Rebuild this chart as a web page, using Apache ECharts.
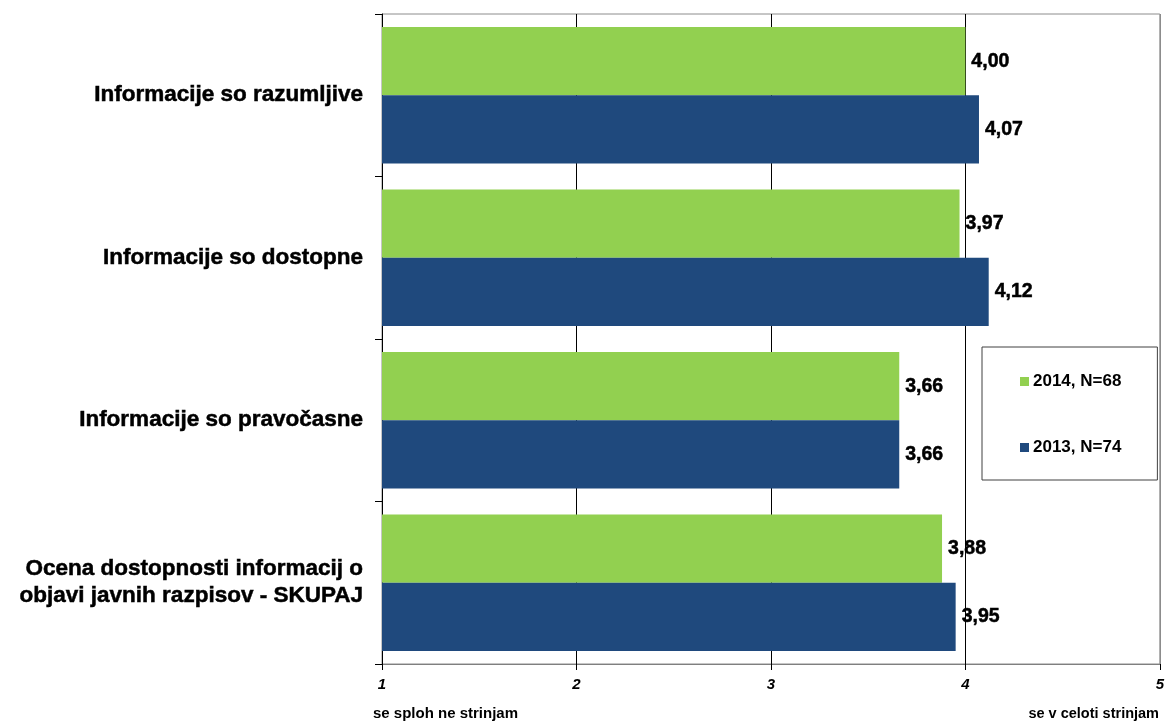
<!DOCTYPE html>
<html>
<head>
<meta charset="utf-8">
<script src="https://cdn.jsdelivr.net/npm/echarts@6/dist/echarts.min.js"></script>
<style>
html,body{margin:0;padding:0;background:#fff;}
#c{width:1167px;height:722px;}
</style>
</head>
<body>
<div id="c"></div>
<script>
const categories = [
  'Informacije so razumljive',
  'Informacije so dostopne',
  'Informacije so pravočasne',
  'Ocena dostopnosti informacij o\nobjavi javnih razpisov - SKUPAJ'
];
const series2014 = [4.00, 3.97, 3.66, 3.88];
const series2013 = [4.07, 4.12, 3.66, 3.95];
const seriesNames = ['2014, N=68', '2013, N=74'];
const scaleLeft = 'se sploh ne strinjam';
const scaleRight = 'se v celoti strinjam';

const FONT = '"Liberation Sans", Arial, sans-serif';
const fmt = p => p.value.toFixed(2).replace('.', ',');
const labelStyle = {
  show: true, position: 'right', distance: 6,
  formatter: fmt, color: '#000', fontFamily: FONT, fontWeight: 'bold', fontSize: 19.5,
  textBorderColor: '#000', textBorderWidth: 0.5
};

const chart = echarts.init(document.getElementById('c'), null, {renderer: 'canvas'});
chart.setOption({
  animation: false,
  backgroundColor: '#fff',
  grid: {
    left: 382, right: 4, top: 14, bottom: 58,
    show: true, borderColor: '#8c8c8c', borderWidth: 1, backgroundColor: 'transparent'
  },
  legend: {
    data: seriesNames,
    orient: 'vertical',
    left: 982, top: 347,
    padding: [26, 36, 24, 38],
    itemGap: 49,
    itemWidth: 9, itemHeight: 9,
    icon: 'rect',
    backgroundColor: '#fff',
    borderColor: '#404040', borderWidth: 1,
    textStyle: {fontFamily: FONT, fontWeight: 'bold', fontSize: 17, color: '#000', padding: [0, 0, 0, -1]}
  },
  xAxis: {
    type: 'value', min: 1, max: 5, interval: 1,
    axisLine: {show: true, lineStyle: {color: '#7f7f7f', width: 1}},
    axisTick: {show: true, length: 6, lineStyle: {color: '#000'}},
    axisLabel: {
      margin: 13, color: '#000', fontFamily: FONT, fontWeight: 'bold',
      fontStyle: 'italic', fontSize: 15
    },
    splitLine: {show: true, lineStyle: {color: ['#000', '#000', '#000', '#000', '#8c8c8c'], width: 1}}
  },
  yAxis: {
    type: 'category', data: categories, inverse: true,
    axisLine: {show: true, lineStyle: {color: '#000', width: 1}},
    axisTick: {show: true, length: 7, lineStyle: {color: '#000'}},
    axisLabel: {
      margin: 19, color: '#000', fontFamily: FONT, fontWeight: 'bold',
      fontSize: 22.5, lineHeight: 27, align: 'right',
      textBorderColor: '#000', textBorderWidth: 0.5
    }
  },
  graphic: [
    {type: 'text', left: 373, top: 706, style: {text: scaleLeft, fill: '#000', font: 'bold 15px ' + FONT}},
    {type: 'text', right: 8, top: 706, style: {text: scaleRight, fill: '#000', font: 'bold 14.5px ' + FONT}}
  ],
  series: [
    {
      name: seriesNames[0], type: 'bar', data: series2014,
      barGap: '0%', barCategoryGap: '16%',
      itemStyle: {color: '#92d050'},
      label: labelStyle
    },
    {
      name: seriesNames[1], type: 'bar', data: series2013,
      barGap: '0%', barCategoryGap: '16%',
      itemStyle: {color: '#1f497d'},
      label: labelStyle
    }
  ]
});
</script>
</body>
</html>
